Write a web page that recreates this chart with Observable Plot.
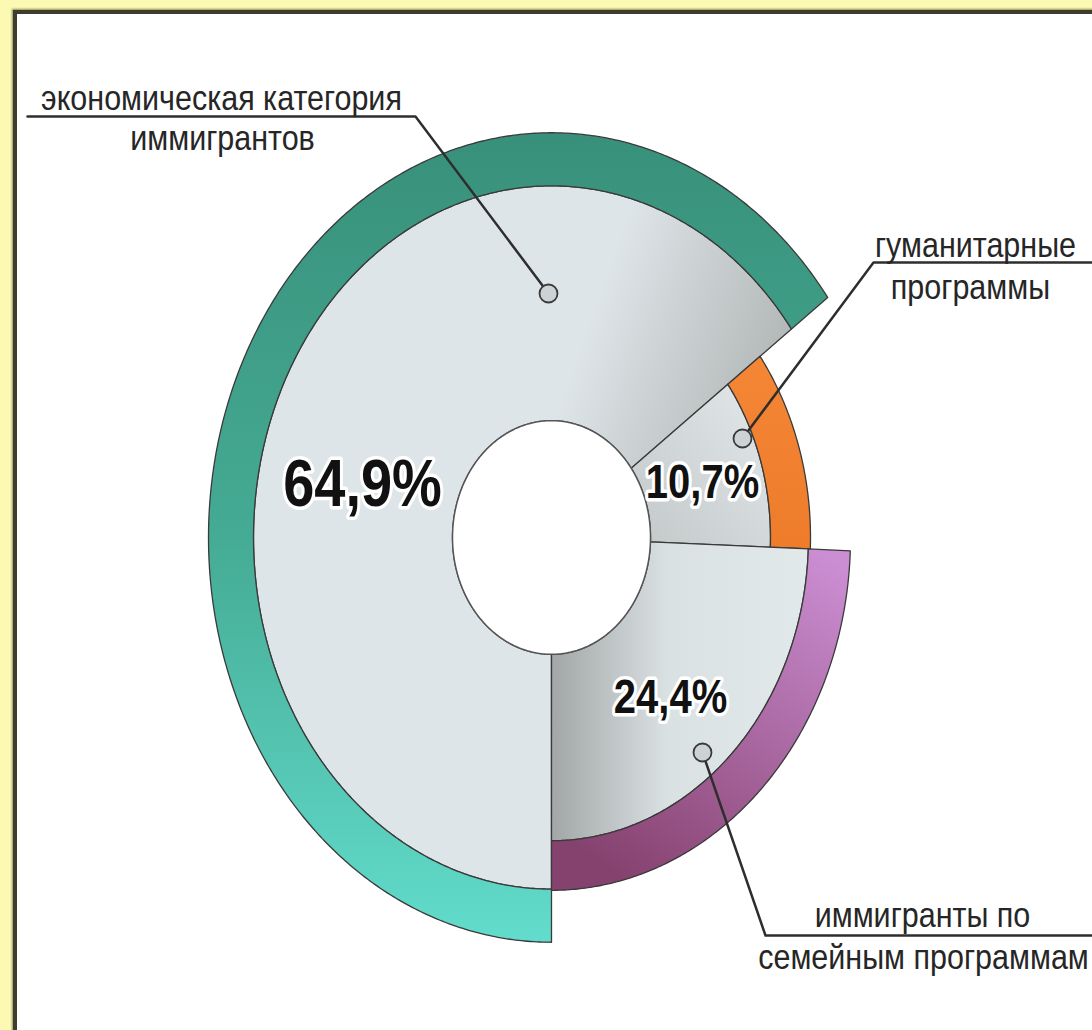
<!DOCTYPE html>
<html><head><meta charset="utf-8">
<script src="https://cdn.jsdelivr.net/npm/d3@7"></script>
<script src="https://cdn.jsdelivr.net/npm/@observablehq/plot@0.6"></script>
<style>
html,body{margin:0;padding:0;width:1092px;height:1030px;overflow:hidden;background:#fcf9b2;}
#panel{position:absolute;left:13px;top:10px;width:1100px;height:1040px;background:#fff;border-top:4px solid #3c3d2a;border-left:4px solid #3c3d2a;box-sizing:border-box;box-shadow:-1px -1px 2px #8a8a60;}
#chart{position:absolute;left:0;top:0;}
</style></head><body>
<div id="panel"></div>
<div id="chart"></div>
<script>
// ---- data ----
const categories = ["экономическая категория иммигрантов", "гуманитарные программы", "иммигранты по семейным программам"];
const values = [64.9, 10.7, 24.4];
const labelLines = [["экономическая категория", "иммигрантов"], ["гуманитарные", "программы"], ["иммигранты по", "семейным программам"]];

// ---- layout ----
const W = 1092, H = 1030, CX = 551, CY = 537, K = 1.18;
const px = v => v - CX;
const py = v => (CY - v) / K;
const HOLE = 99;
const innerR = [298, 219, 257];
const bandW = [45, 40, 42];
const START = 180;
const SHADE_FROM = 360; // shading of the first sector starts at twelve o'clock
const FONT = "'Liberation Sans',Arial,sans-serif";
const STROKE = "#3a3a3a";

const total = d3.sum(values);
let acc = START;
const segs = values.map((v, i) => { const a0 = acc, a1 = acc + v / total * 360; acc = a1; return {i, a0, a1}; });

const pt = (a, r) => { const t = a * Math.PI / 180; return {x: r * Math.sin(t), y: r * Math.cos(t)}; };
function ring(a0, a1, r0, r1, id) {
  const n = Math.max(8, Math.ceil((a1 - a0) / 0.5));
  const pts = [];
  for (let k = 0; k <= n; k++) pts.push({...pt(a0 + (a1 - a0) * k / n, r1), id});
  for (let k = n; k >= 0; k--) pts.push({...pt(a0 + (a1 - a0) * k / n, r0), id});
  pts.push(pts[0]);
  return pts;
}
const hole = d3.range(0, 361, 1).map(a => ({...pt(a, HOLE), id: "hole"}));

// leader lines (pixel layout converted to data space)
const leaderPx = [
  [[27, 116], [415, 116], [548, 293]],
  [[1095, 262], [873, 262], [742, 438]],
  [[1095, 935], [765, 935], [702, 752]]
];
const leaders = leaderPx.flatMap((l, i) => l.map(([a, b]) => ({x: px(a), y: py(b), id: i})));
const anchors = leaderPx.map((l, i) => ({x: px(l[2][0]), y: py(l[2][1]), id: i}));

const labelPos = [[[221, 98], [222, 138]], [[975, 245], [970, 287]], [[922, 915], [923, 957]]];
const labelRows = labelLines.flatMap((ls, i) => ls.map((t, j) => ({text: t, x: px(labelPos[i][j][0]), y: py(labelPos[i][j][1])})));

const pctPos = [[362, 484], [702, 482], [670, 697]];
const pctSize = [56, 40, 40];
const pcts = values.map((v, i) => ({text: v.toFixed(1).replace(".", ",") + "%", x: px(pctPos[i][0]), y: py(pctPos[i][1]), size: pctSize[i]}));

const gradDefs = () => {
  const defs = document.createElementNS("http://www.w3.org/2000/svg", "defs");
  defs.innerHTML = `
  <linearGradient id="gshade" gradientUnits="userSpaceOnUse" x1="585" y1="330" x2="780" y2="400">
    <stop offset="0" stop-color="#b0b4b4" stop-opacity="0"/><stop offset="1" stop-color="#b0b4b4" stop-opacity="1"/></linearGradient>
  <linearGradient id="gs1" x1="1" y1="0" x2="0" y2="1">
    <stop offset="0" stop-color="#e3e9eb"/><stop offset="1" stop-color="#c2c7c8"/></linearGradient>
  <linearGradient id="gs2" x1="0" y1="0" x2="1" y2="0">
    <stop offset="0" stop-color="#a2a6a6"/><stop offset="0.45" stop-color="#dae1e3"/><stop offset="1" stop-color="#e2e9eb"/></linearGradient>
  <linearGradient id="gb0" x1="0" y1="0" x2="0" y2="1">
    <stop offset="0" stop-color="#38907a"/><stop offset="0.5" stop-color="#45ab94"/><stop offset="1" stop-color="#62dccc"/></linearGradient>
  <linearGradient id="gb1" x1="0" y1="0" x2="0" y2="1">
    <stop offset="0" stop-color="#f48636"/><stop offset="1" stop-color="#ee7c2a"/></linearGradient>
  <linearGradient id="gb2" x1="0.9" y1="0" x2="0.3" y2="1">
    <stop offset="0" stop-color="#cc8ed3"/><stop offset="1" stop-color="#86426f"/></linearGradient>`;
  return defs;
};
const sectorFill = ["#dee5e8", "url(#gs1)", "url(#gs2)"];

const marks = [gradDefs];
segs.forEach(s => {
  const sector = ring(s.a0, s.a1, HOLE, innerR[s.i], "s" + s.i);
  marks.push(Plot.line(sector, {x: "x", y: "y", fill: sectorFill[s.i], stroke: "none"}));
  if (s.i === 0) marks.push(Plot.line(ring(SHADE_FROM, s.a1, HOLE, innerR[s.i], "shade"), {x: "x", y: "y", fill: "url(#gshade)", stroke: "none"}));
  marks.push(Plot.line(sector, {x: "x", y: "y", fill: "none", stroke: STROKE, strokeWidth: 1.3}));
  marks.push(Plot.line(ring(s.a0, s.a1, innerR[s.i], innerR[s.i] + bandW[s.i], "b" + s.i), {x: "x", y: "y", fill: `url(#gb${s.i})`, stroke: STROKE, strokeWidth: 1.3}));
});
marks.push(Plot.line(hole, {x: "x", y: "y", fill: "white", stroke: "#555", strokeWidth: 1.5}));
marks.push(Plot.line(leaders, {x: "x", y: "y", z: "id", stroke: "#2e2e2e", strokeWidth: 2.5}));
marks.push(Plot.dot(anchors, {x: "x", y: "y", r: 9, fill: "#cdd3d4", stroke: STROKE, strokeWidth: 1.8}));
marks.push(Plot.text(labelRows, {x: "x", y: "y", text: "text", fontSize: 30.5, fontFamily: FONT, fill: "#262626"}));
marks.push(Plot.text(pcts, {x: "x", y: "y", text: "text", fontSize: "size", fontWeight: "bold", fontFamily: FONT, fill: "#111", stroke: "white", strokeWidth: 6, paintOrder: "stroke"}));

const chart = Plot.plot({
  width: W, height: H, margin: 0,
  style: {background: "transparent", overflow: "visible"},
  x: {domain: [-CX, W - CX], range: [0, W], axis: null},
  y: {domain: [-(H - CY) / K, CY / K], range: [H, 0], axis: null},
  marks
});
// the reference's lettering is stretched vertically like the whole picture
chart.querySelectorAll("text").forEach(t => {
  let tr = t.getAttribute("transform");
  if (!tr) {
    const x = t.getAttribute("x") || 0, y = t.getAttribute("y") || 0;
    t.removeAttribute("x"); t.removeAttribute("y");
    tr = `translate(${x},${y})`;
  }
  t.setAttribute("transform", `${tr} scale(1,${K})`);
});
document.getElementById("chart").appendChild(chart);
</script>
</body></html>
